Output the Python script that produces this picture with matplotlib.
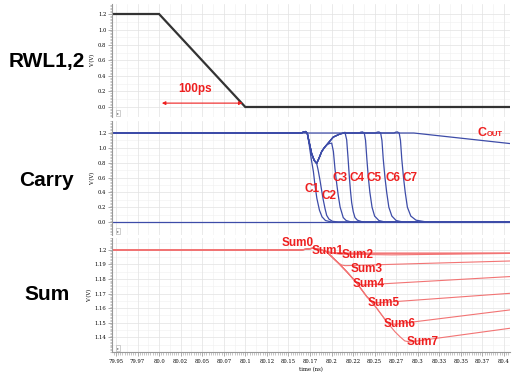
import numpy as np
import matplotlib.pyplot as plt
from matplotlib.ticker import MultipleLocator

# RWL1,2 waveform (time ns, volt)
rwl = [(79.945, 1.2), (80.0, 1.2), (80.1, 0.0), (80.407, 0.0)]

# carry waveforms
c_top = [(79.945, 1.2), (80.165, 1.2), (80.168, 1.215), (80.170, 1.22), (80.172, 1.19)]
c_dip = [(80.174, 1.08), (80.177, 0.92), (80.180, 0.83), (80.1828, 0.79)]
c_rise = [(80.1855, 0.86), (80.1886, 0.95), (80.1915, 1.0), (80.1944, 1.04), (80.202, 1.145),
          (80.2098, 1.187), (80.2136, 1.198)]
c1 = c_top + [(80.174, 1.05), (80.1765, 0.85), (80.179, 0.68), (80.181, 0.48), (80.183, 0.32),
              (80.186, 0.16), (80.189, 0.07), (80.193, 0.02), (80.2, 0.0), (80.407, 0.0)]
c2 = c_top + c_dip + [(80.1845, 0.70), (80.1866, 0.566), (80.1885, 0.43), (80.1904, 0.30),
                      (80.1925, 0.18), (80.1944, 0.09), (80.197, 0.04), (80.201, 0.01),
                      (80.208, 0.0), (80.407, 0.0)]
c3 = c_top + c_dip + [(80.1855, 0.86), (80.1886, 0.95), (80.1915, 1.0), (80.1944, 1.04),
                      (80.1975, 1.058), (80.2002, 1.064), (80.2022, 0.95), (80.204, 0.72),
                      (80.206, 0.52), (80.2078, 0.36), (80.21, 0.2), (80.2136, 0.06),
                      (80.217, 0.02), (80.223, 0.0), (80.407, 0.0)]
c4 = c_top + c_dip + c_rise + [(80.2156, 1.21), (80.2176, 1.108), (80.2192, 0.86), (80.2206, 0.62),
                               (80.222, 0.42), (80.2234, 0.26), (80.2252, 0.14), (80.2272, 0.06),
                               (80.230, 0.025), (80.235, 0.005), (80.24, 0.0), (80.407, 0.0)]
c5 = c_top + c_dip + c_rise + [(80.225, 1.2), (80.232, 1.2), (80.234, 1.212), (80.236, 1.215),
                               (80.238, 1.2), (80.2395, 1.1), (80.241, 0.85), (80.2427, 0.6),
                               (80.2445, 0.4), (80.247, 0.2), (80.25, 0.08), (80.255, 0.02),
                               (80.262, 0.0), (80.407, 0.0)]
c6 = c_top + c_dip + c_rise + [(80.225, 1.2), (80.251, 1.2), (80.253, 1.212), (80.255, 1.215),
                               (80.257, 1.2), (80.2585, 1.1), (80.260, 0.85), (80.262, 0.6),
                               (80.264, 0.4), (80.2665, 0.2), (80.270, 0.08), (80.275, 0.02),
                               (80.283, 0.0), (80.407, 0.0)]
c7 = c_top + c_dip + c_rise + [(80.225, 1.2), (80.2725, 1.2), (80.2745, 1.212), (80.2765, 1.215),
                               (80.2785, 1.2), (80.280, 1.1), (80.2815, 0.85), (80.2835, 0.6),
                               (80.2855, 0.4), (80.288, 0.2), (80.292, 0.08), (80.298, 0.025),
                               (80.308, 0.005), (80.318, 0.0), (80.407, 0.0)]
c_out = [(79.945, 1.2), (80.2955, 1.2), (80.407, 1.058)]
c_gnd = [(79.945, 0.0), (80.407, 0.0)]
carry_curves = [c_gnd, c_out, c1, c2, c3, c4, c5, c6, c7]

carry_labels = ["C1", "C2", "C3", "C4", "C5", "C6", "C7"]
carry_label_t = [80.1773, 80.1967, 80.2094, 80.229, 80.249, 80.271, 80.291]
carry_label_v = [0.44, 0.35, 0.60, 0.60, 0.60, 0.60, 0.60]

# sum waveforms
s_start = [(79.945, 1.2), (80.165, 1.2), (80.172, 1.2006), (80.179, 1.2012), (80.186, 1.2003),
           (80.194, 1.1989)]
s_drop = [(80.2, 1.1955), (80.208, 1.191), (80.2176, 1.1851), (80.229, 1.1775), (80.2408, 1.168),
          (80.245, 1.1655), (80.2524, 1.16), (80.264, 1.1507), (80.2736, 1.1438), (80.2794, 1.1404)]
sum0 = s_start + [(80.2, 1.1983), (80.21, 1.1979), (80.407, 1.1979)]
sum1 = s_start + [(80.2, 1.198), (80.21, 1.1975), (80.3, 1.1974), (80.407, 1.1977)]
sum2 = s_start + [(80.2, 1.1978), (80.2098, 1.1971), (80.27, 1.1966), (80.407, 1.1976)]
sum3 = s_start + s_drop[:2] + [(80.212, 1.1896), (80.216, 1.1892), (80.407, 1.1924)]
sum4 = s_start + s_drop[:4] + [(80.233, 1.1762), (80.238, 1.176), (80.407, 1.1817)]
sum5 = s_start + s_drop[:6] + [(80.249, 1.1638), (80.255, 1.1637), (80.407, 1.1702)]
sum6 = s_start + s_drop[:8] + [(80.268, 1.1492), (80.274, 1.149), (80.407, 1.1588)]
sum7 = s_start + s_drop + [(80.285, 1.1375), (80.291, 1.1368), (80.407, 1.1462)]
sum_curves = [sum0, sum1, sum2, sum3, sum4, sum5, sum6, sum7]

sum_labels = ["Sum0", "Sum1", "Sum2", "Sum3", "Sum4", "Sum5", "Sum6", "Sum7"]
sum_label_t = [80.1605, 80.1953, 80.230, 80.2408, 80.2426, 80.260, 80.2794, 80.3055]
sum_label_v = [1.2046, 1.1991, 1.1968, 1.1868, 1.1766, 1.1637, 1.1491, 1.1370]

xtick_labels = ["79.95", "79.97", "80.0", "80.02", "80.05", "80.07", "80.1", "80.12", "80.15",
                "80.17", "80.2", "80.22", "80.25", "80.27", "80.3", "80.33", "80.35", "80.37", "80.4"]
v_labels = ["0.0", "0.2", "0.4", "0.6", "0.8", "1.0", "1.2"]
s_labels = ["1.14", "1.15", "1.16", "1.17", "1.18", "1.19", "1.2"]

BLUE = '#3d4ca8'
PINK = '#f27474'
RED = '#ee1f1f'
bold_font = ['Liberation Sans', 'DejaVu Sans']

fig = plt.figure(figsize=(5.12, 3.78), dpi=100)
ax1 = fig.add_axes([0.21875, 0.6905, 0.7773, 0.2989])
ax2 = fig.add_axes([0.21875, 0.3783, 0.7773, 0.3016])
ax3 = fig.add_axes([0.21875, 0.0688, 0.7773, 0.3016])


def style(ax, yticks, ymin, ygrid, ylim, ylabels, show_x):
    ax.set_xlim(79.9454, 80.407)
    ax.set_ylim(*ylim)
    ax.set_xticks(np.arange(79.95, 80.401, 0.025))
    ax.xaxis.set_minor_locator(MultipleLocator(0.0025))
    ax.set_yticks(yticks)
    ax.set_yticklabels(ylabels)
    ax.yaxis.set_minor_locator(MultipleLocator(ymin))
    for s in ['top', 'right', 'bottom']:
        ax.spines[s].set_visible(False)
    ax.spines['left'].set_color('#999999')
    ax.spines['left'].set_linewidth(0.8)
    ax.grid(which='major', color='#e2e2e2', lw=0.5)
    for x in np.arange(79.9625, 80.407, 0.025):
        ax.axvline(x, color='#f0f0f0', lw=0.4, zorder=0)
    for y in ygrid:
        ax.axhline(y, color='#f0f0f0', lw=0.4, zorder=0)
    ax.tick_params(axis='y', which='major', length=3, width=0.5, color='#888888',
                   labelsize=3.8, pad=1)
    ax.tick_params(axis='y', which='minor', length=1.8, width=0.4, color='#999999')
    if show_x:
        ax.spines['bottom'].set_visible(True)
        ax.spines['bottom'].set_color('#999999')
        ax.spines['bottom'].set_linewidth(0.8)
        ax.set_xticklabels(xtick_labels)
        ax.tick_params(axis='x', which='major', length=3, width=0.5, color='#888888',
                       labelsize=3.8, pad=2)
        ax.tick_params(axis='x', which='minor', length=1.8, width=0.4, color='#999999')
        ax.set_xlabel("time (ns)", fontsize=3.8, family='DejaVu Serif', labelpad=2)
    else:
        ax.tick_params(axis='x', which='both', length=0, labelbottom=False)
    for lab in ax.get_yticklabels() + ax.get_xticklabels():
        lab.set_family('DejaVu Serif')
    ax.set_ylabel("V (V)", fontsize=3.8, family='DejaVu Serif', labelpad=2)
    ax.text(0.012, 0.02, "\u25b8", transform=ax.transAxes, fontsize=3, color='#777777',
            ha='left', va='bottom',
            bbox=dict(boxstyle='square,pad=0.25', fc='white', ec='#aaaaaa', lw=0.4))


# panel 1: RWL
t, v = zip(*rwl)
ax1.plot(t, v, color='#333333', lw=1.6, solid_joinstyle='miter')
style(ax1, np.arange(0, 1.21, 0.2), 0.02, np.arange(0.1, 1.3, 0.2), (-0.129, 1.329), v_labels, False)
ax1.annotate("", xy=(80.0, 0.05), xytext=(80.1, 0.05),
             arrowprops=dict(arrowstyle='<|-|>', color=RED, lw=0.8, mutation_scale=5))
ax1.text(80.042, 0.23, "100ps", color=RED, fontsize=8.5, fontweight='bold', family=bold_font,
         ha='center', va='center')

# panel 2: Carry
for c in carry_curves:
    t, v = zip(*c)
    ax2.plot(t, v, color=BLUE, lw=0.9)
style(ax2, np.arange(0, 1.21, 0.2), 0.02, np.arange(0.1, 1.3, 0.2), (-0.175, 1.362), v_labels, False)
for lab, lt, lv in zip(carry_labels, carry_label_t, carry_label_v):
    ax2.text(lt, lv, lab, color=RED, fontsize=8.5, fontweight='bold', family=bold_font,
             ha='center', va='center')
ax2.text(80.374, 1.205, "C", color=RED, fontsize=9, fontweight='bold', family=bold_font,
         ha='center', va='center')
ax2.text(80.3805, 1.18, "OUT", color=RED, fontsize=5.5, fontweight='bold', family=bold_font,
         ha='left', va='center')

# panel 3: Sum
for s in sum_curves:
    t, v = zip(*s)
    ax3.plot(t, v, color=PINK, lw=0.8)
style(ax3, np.arange(1.14, 1.2001, 0.01), 0.001, np.arange(1.135, 1.21, 0.01), (1.1299, 1.2082),
      s_labels, True)
for lab, lt, lv in zip(sum_labels, sum_label_t, sum_label_v):
    ax3.text(lt, lv, lab, color=RED, fontsize=8.5, fontweight='bold', family=bold_font,
             ha='center', va='center')

fig.text(47 / 512, 1 - 61 / 378, "RWL1,2", fontsize=15, fontweight='bold', family=bold_font,
         ha='center', va='center')
fig.text(46 / 512, 1 - 180 / 378, "Carry", fontsize=15, fontweight='bold', family=bold_font,
         ha='center', va='center')
fig.text(47 / 512, 1 - 295 / 378, "Sum", fontsize=15, fontweight='bold', family=bold_font,
         ha='center', va='center')

fig.savefig("out.png", dpi=100)
